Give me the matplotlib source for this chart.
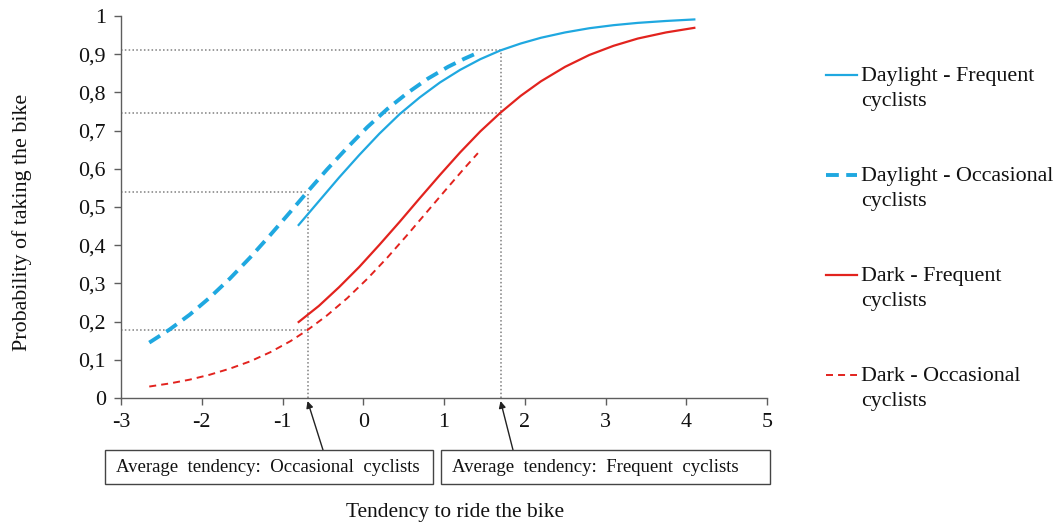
import matplotlib
matplotlib.use("Agg")
import matplotlib.pyplot as plt
from matplotlib.lines import Line2D
from matplotlib.patches import Rectangle

plt.rcParams['font.family'] = ['Liberation Serif', 'DejaVu Serif']
plt.rcParams['axes.unicode_minus'] = False

# Predicted probability curves (tendency -> probability of taking the bike)
x_frequent = [-0.8, -0.55, -0.3, -0.05, 0.2, 0.45, 0.7, 0.95, 1.2, 1.45, 1.7,
              1.95, 2.2, 2.5, 2.8, 3.1, 3.4, 3.75, 4.1]
daylight_frequent = [0.453, 0.515, 0.577, 0.636, 0.692, 0.743, 0.787, 0.826, 0.859, 0.887, 0.910,
                     0.928, 0.943, 0.957, 0.968, 0.976, 0.982, 0.987, 0.991]
dark_frequent = [0.199, 0.241, 0.290, 0.343, 0.401, 0.461, 0.523, 0.584, 0.643, 0.698, 0.747,
                 0.791, 0.829, 0.867, 0.898, 0.922, 0.941, 0.957, 0.969]

x_occasional = [-2.65, -2.4, -2.15, -1.9, -1.65, -1.4, -1.15, -0.9, -0.69, -0.45, -0.2,
                0.05, 0.3, 0.55, 0.8, 1.05, 1.25, 1.42]
daylight_occasional = [0.145, 0.179, 0.218, 0.263, 0.313, 0.368, 0.427, 0.488, 0.540, 0.598, 0.655,
                       0.709, 0.757, 0.799, 0.836, 0.867, 0.888, 0.904]
dark_occasional = [0.030, 0.038, 0.048, 0.061, 0.077, 0.096, 0.120, 0.149, 0.178, 0.216, 0.261,
                   0.312, 0.368, 0.428, 0.490, 0.552, 0.601, 0.641]

# Average tendencies and the probabilities read at them
avg_occasional = -0.69
avg_frequent = 1.7
occasional_levels = [0.540, 0.178]
frequent_levels = [0.910, 0.747]

x_ticks = [-3, -2, -1, 0, 1, 2, 3, 4, 5]
x_tick_labels = ['-3', '-2', '-1', '0', '1', '2', '3', '4', '5']
y_ticks = [0, 0.1, 0.2, 0.3, 0.4, 0.5, 0.6, 0.7, 0.8, 0.9, 1.0]
y_tick_labels = ['0', '0,1', '0,2', '0,3', '0,4', '0,5', '0,6', '0,7', '0,8', '0,9', '1']

series_labels = ['Daylight - Frequent\ncyclists', 'Daylight - Occasional\ncyclists',
                 'Dark - Frequent\ncyclists', 'Dark - Occasional\ncyclists']

BLUE = '#1FA8E0'
RED = '#E2231E'
GREY = '#7F7F7F'
AXIS = '#5E5E5E'
TEXT = '#111111'
FS = 15.8

W, H = 1060, 526
fig = plt.figure(figsize=(W / 100, H / 100), dpi=100)


def fx(px):
    return px / W


def fy(py):
    return 1 - py / H


ax = fig.add_axes([fx(121), fy(398), fx(767) - fx(121), fy(16) - fy(398)])
ax.set_xlim(-3, 5)
ax.set_ylim(0, 1)

# Dotted guide lines at the average tendencies
dot = dict(ls=(0, (1, 1.5)), color=GREY, lw=1.1, zorder=1)
for lvl in occasional_levels:
    ax.plot([-3, avg_occasional], [lvl, lvl], **dot)
for lvl in frequent_levels:
    ax.plot([-3, avg_frequent], [lvl, lvl], **dot)
ax.plot([avg_occasional, avg_occasional], [0, max(occasional_levels)], **dot)
ax.plot([avg_frequent, avg_frequent], [0, max(frequent_levels)], **dot)

styles = [
    dict(color=BLUE, lw=1.6, ls='-'),
    dict(color=BLUE, lw=2.8, ls=(0, (3.3, 1.9))),
    dict(color=RED, lw=1.6, ls='-'),
    dict(color=RED, lw=1.4, ls=(0, (3.6, 2.6))),
]
ax.plot(x_frequent, daylight_frequent, zorder=3, **styles[0])
ax.plot(x_occasional, daylight_occasional, zorder=3, **styles[1])
ax.plot(x_frequent, dark_frequent, zorder=3, **styles[2])
ax.plot(x_occasional, dark_occasional, zorder=3, **styles[3])

for side in ['top', 'right']:
    ax.spines[side].set_visible(False)
for side in ['left', 'bottom']:
    ax.spines[side].set_color(AXIS)
    ax.spines[side].set_linewidth(1.0)
ax.set_xticks(x_ticks)
ax.set_xticklabels(x_tick_labels)
ax.set_yticks(y_ticks)
ax.set_yticklabels(y_tick_labels)
ax.tick_params(axis='both', direction='out', length=5, width=1.0, color=AXIS,
               labelsize=FS, labelcolor=TEXT)
ax.tick_params(axis='y', pad=6)
ax.tick_params(axis='x', pad=6)

fig.text(fx(455), fy(512), 'Tendency to ride the bike', ha='center', va='center',
         fontsize=15.4, color=TEXT)
fig.text(fx(22), fy(222), 'Probability of taking the bike', ha='center', va='center',
         rotation=90, fontsize=FS, color=TEXT)

# Legend drawn at the right of the plot
legend_rows = [75, 175, 275, 375]
for label, st, row in zip(series_labels, styles, legend_rows):
    fig.add_artist(Line2D([fx(826), fx(857)], [fy(row), fy(row)], transform=fig.transFigure,
                          color=st['color'], lw=st['lw'], ls=st['ls']))
    first, second = label.split('\n')
    fig.text(fx(861), fy(row + 6), first, ha='left', va='baseline', fontsize=FS, color=TEXT)
    fig.text(fx(861), fy(row + 31), second, ha='left', va='baseline', fontsize=FS, color=TEXT)

# Boxes explaining the average tendencies
boxes = [
    (105, 433, 'Average  tendency:  Occasional  cyclists', avg_occasional, 323),
    (441, 770, 'Average  tendency:  Frequent  cyclists', avg_frequent, 513),
]
for x0, x1, text, avg, arrow_x in boxes:
    fig.add_artist(Rectangle((fx(x0), fy(484)), fx(x1) - fx(x0), fy(450) - fy(484),
                             transform=fig.transFigure, fill=False, edgecolor='#444444', lw=1.0))
    fig.text(fx(x0 + 11), fy(467), text, ha='left', va='center', fontsize=13.5, color=TEXT)
    ax.annotate('', xy=(avg, -0.008), xycoords='data',
                xytext=(fx(arrow_x), fy(450)), textcoords='figure fraction',
                arrowprops=dict(arrowstyle='-|>', color='#222222', lw=1.0,
                                mutation_scale=10, shrinkA=0, shrinkB=0),
                annotation_clip=False)

fig.savefig('out.png', dpi=100)
